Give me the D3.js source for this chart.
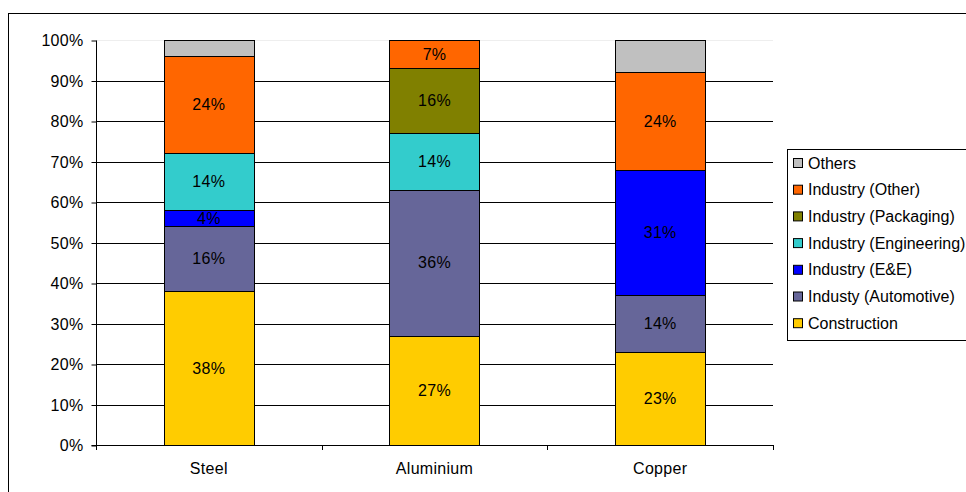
<!DOCTYPE html>
<html><head><meta charset="utf-8">
<script src="https://cdn.jsdelivr.net/npm/d3@7"></script>
<style>body{margin:0;background:#fff}svg{display:block;font-family:"Liberation Sans",Arial,sans-serif}svg text{letter-spacing:0.3px}svg .legend text{letter-spacing:0}</style>
</head><body><svg id="c" width="966" height="492"></svg>
<script>
const categories = ["Steel", "Aluminium", "Copper"];
const seriesNames = ["Construction", "Industy (Automotive)", "Industry (E&E)", "Industry (Engineering)", "Industry (Packaging)", "Industry (Other)", "Others"];
const construction = [38, 27, 23];
const automotive = [16, 36, 14];
const ee = [4, 0, 31];
const engineering = [14, 14, 0];
const packaging = [0, 16, 0];
const industryOther = [24, 7, 24];
const others = [4, 0, 8];
const colors = ["#FFCC00", "#666699", "#0000FF", "#33CCCC", "#808000", "#FF6600", "#C0C0C0"];
const yTicks = [0, 10, 20, 30, 40, 50, 60, 70, 80, 90, 100];

const seriesValues = [construction, automotive, ee, engineering, packaging, industryOther, others];
const svg = d3.select("#c");
const pLeft = 96, pRight = 773, pTop = 40, pBottom = 445;
const FS = 16;

svg.append("rect").attr("x", 8.5).attr("y", 13.5).attr("width", 1100).attr("height", 1100)
  .attr("fill", "#fff").attr("stroke", "#000").attr("stroke-width", 1);

const x = d3.scaleBand().domain(categories).range([pLeft, pRight]).padding(0);
const y = d3.scaleLinear().domain([0, 100]).range([pBottom, pTop]);

// gridlines
svg.append("g").selectAll("line").data(yTicks.filter(t => t > 0)).join("line")
  .attr("x1", pLeft).attr("x2", pRight)
  .attr("y1", d => Math.round(y(d)) + 0.5).attr("y2", d => Math.round(y(d)) + 0.5)
  .attr("stroke", d => d === 100 ? "#eee" : "#000").attr("stroke-width", 1);

// y axis
const yAxis = d3.axisLeft(y).tickValues(yTicks).tickFormat(d => d + "%").tickSize(5).tickPadding(8);
const gy = svg.append("g").attr("transform", `translate(${pLeft + 0.5},0.5)`).call(yAxis);
gy.select(".domain").attr("stroke", "#000").attr("d", `M-5,${y(0)}H0V${y(100)}`);
gy.selectAll(".tick line").attr("stroke", "#000");
gy.selectAll("text").attr("font-size", FS).attr("fill", "#000").attr("font-family", "Liberation Sans, Arial, sans-serif");

// x axis
const xAxis = d3.axisBottom(x).tickSize(0).tickPadding(17);
const gx = svg.append("g").attr("transform", `translate(0,${pBottom + 0.5})`).call(xAxis);
gx.select(".domain").attr("stroke", "#000").attr("d", `M${pLeft + 0.5},0H${pRight + 0.5}`);
gx.selectAll("text").attr("font-size", FS).attr("fill", "#000").attr("font-family", "Liberation Sans, Arial, sans-serif");
// category boundary ticks
svg.append("g").selectAll("line").data(categories.concat(["_end"])).join("line")
  .attr("x1", (d, i) => Math.round(i < categories.length ? x(d) : pRight) + 0.5)
  .attr("x2", (d, i) => Math.round(i < categories.length ? x(d) : pRight) + 0.5)
  .attr("y1", pBottom).attr("y2", pBottom + 5).attr("stroke", "#000");

// stacked bars
const rows = categories.map((c, i) => {
  const o = { cat: c };
  seriesNames.forEach((s, j) => o[s] = seriesValues[j][i]);
  return o;
});
const stacked = d3.stack().keys(seriesNames)(rows);
const bw = x.bandwidth() * 0.4;
stacked.forEach((layer, j) => {
  const g = svg.append("g");
  layer.forEach(d => {
    const v = d[1] - d[0];
    if (v <= 0) return;
    const cx = x(d.data.cat) + x.bandwidth() / 2;
    const x0 = Math.round(cx - bw / 2) + 0.5;
    const y0 = Math.round(y(d[1])) + 0.5, y1 = Math.round(y(d[0])) + 0.5;
    g.append("rect").attr("x", x0).attr("y", y0).attr("width", Math.round(bw)).attr("height", y1 - y0)
      .attr("fill", colors[j]).attr("stroke", "#000").attr("stroke-width", 1);
    if (seriesNames[j] !== "Others") {
      g.append("text").attr("x", cx).attr("y", (y(d[0]) + y(d[1])) / 2)
        .attr("text-anchor", "middle").attr("dominant-baseline", "central")
        .attr("font-size", FS).attr("fill", "#000").text(v + "%");
    }
  });
});

// legend
const lx = 787, ly = 149;
svg.append("rect").attr("x", lx + 0.5).attr("y", ly + 0.5).attr("width", 200).attr("height", 191)
  .attr("fill", "#fff").attr("stroke", "#000");
const legendOrder = seriesNames.map((s, i) => i).reverse();
const lg = svg.append("g").attr("class", "legend").selectAll("g").data(legendOrder).join("g")
  .attr("transform", (d, k) => `translate(${lx + 6},${ly + 14 + k * 26.7})`);
lg.append("rect").attr("x", 0.5).attr("y", -4.5).attr("width", 9).attr("height", 9)
  .attr("fill", d => colors[d]).attr("stroke", "#000");
lg.append("text").attr("x", 15).attr("y", 0).attr("dominant-baseline", "central")
  .attr("font-size", FS).attr("fill", "#000").text(d => seriesNames[d]);
</script></body></html>
